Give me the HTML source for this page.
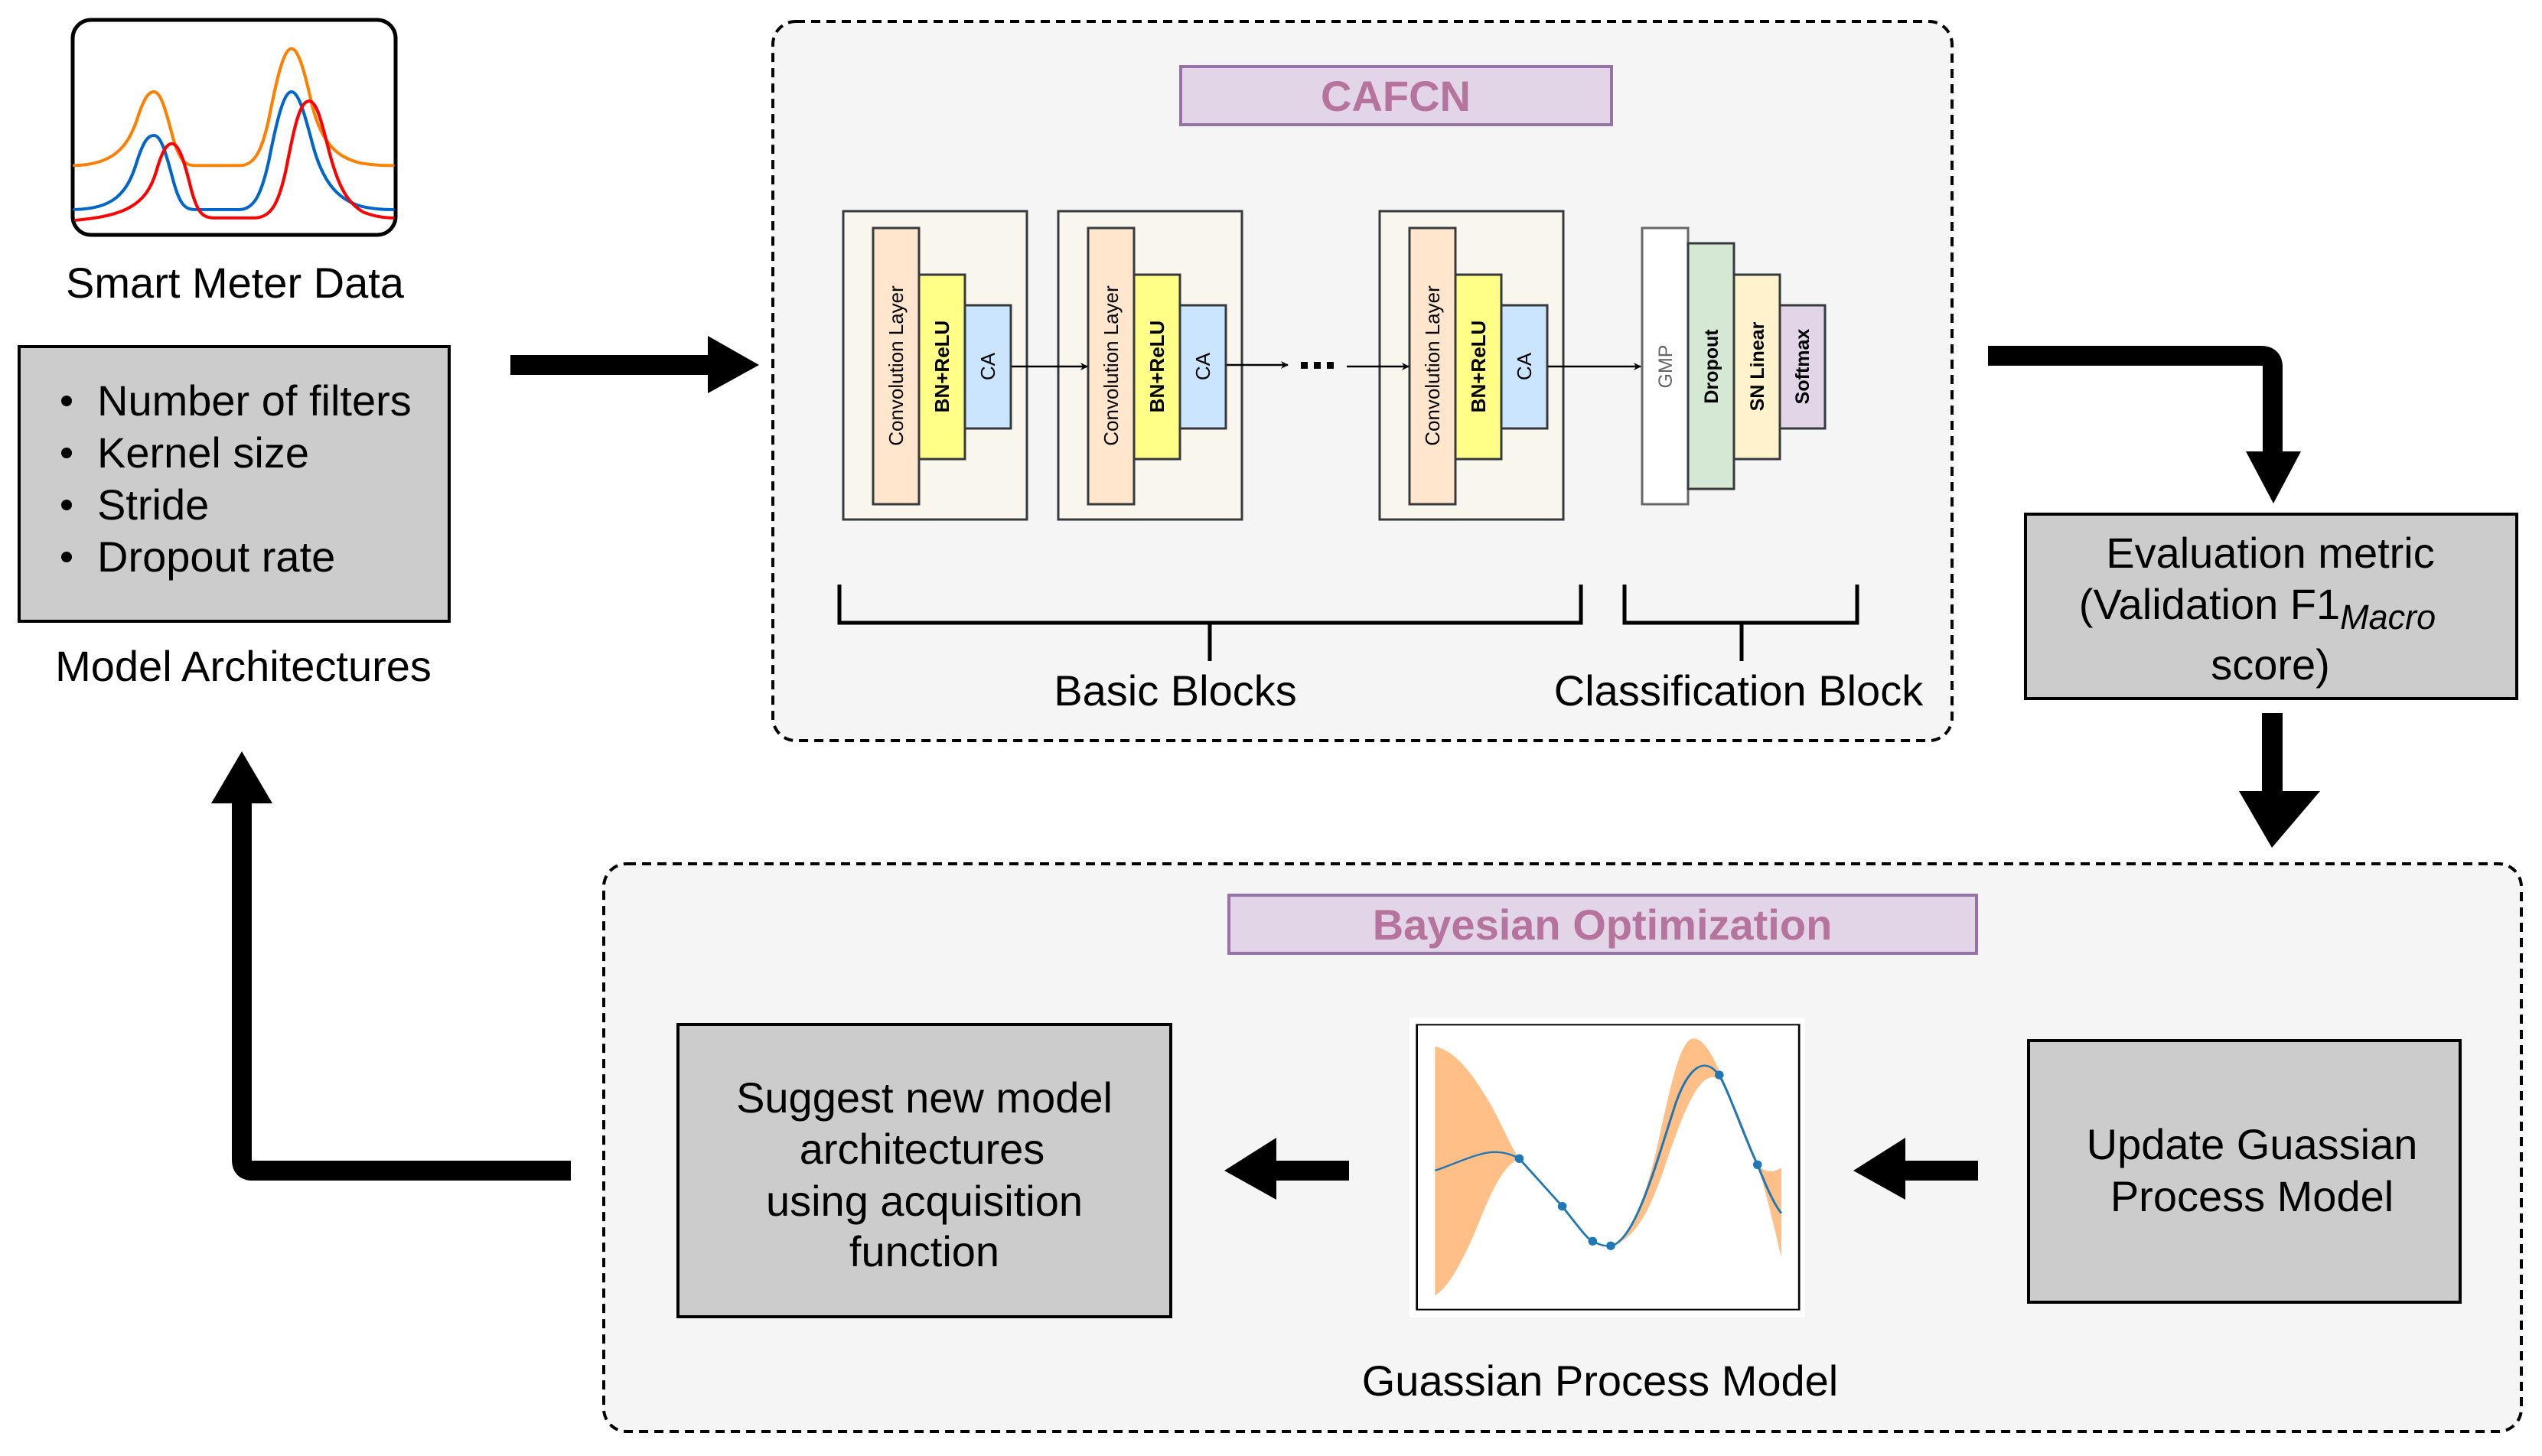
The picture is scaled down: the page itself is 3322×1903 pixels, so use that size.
<!DOCTYPE html>
<html><head><meta charset="utf-8"><style>
html,body{margin:0;padding:0;background:#fff;}
svg{display:block;font-family:"Liberation Sans",Arial,sans-serif;}
</style></head><body>
<svg width="3322" height="1903" viewBox="0 0 3322 1903" xmlns="http://www.w3.org/2000/svg">
<defs>
<marker id="ah" markerWidth="10" markerHeight="10" refX="9" refY="5" orient="auto" markerUnits="userSpaceOnUse"><path d="M0,0 L10,5 L0,10 L3,5 Z" fill="#000"/></marker>
</defs>

<!-- Smart meter chart -->
<rect x="95" y="26" width="422" height="281" rx="24" fill="#fff" stroke="#000" stroke-width="5"/>
<g transform="scale(0.638,0.606)" fill="none" stroke-width="6.5" stroke-linejoin="round" stroke-linecap="round">
<path stroke="#ff8000" d="M152,357 C230,355 260,320 280,260 C295,210 305,198 315,198 C330,198 340,240 355,300 C368,345 378,357 400,357 L490,357 C520,357 535,330 550,260 C565,180 580,105 597,105 C612,105 625,160 640,230 C660,310 690,340 740,352 C770,357 790,357 805,357"/>
<path stroke="#0066cc" d="M152,452 C230,450 260,420 280,350 C295,300 305,292 315,292 C330,292 340,330 355,390 C368,440 378,452 400,452 L490,452 C520,452 535,420 550,350 C565,270 580,198 597,198 C612,198 625,250 640,310 C660,390 690,430 740,445 C770,452 790,452 805,452"/>
<path stroke="#ff0000" d="M155,475 C260,465 300,440 320,370 C332,325 342,310 352,310 C367,310 378,350 392,410 C405,460 415,470 440,470 L520,470 C555,470 570,440 585,370 C600,290 612,218 633,218 C650,218 660,270 675,330 C695,410 715,440 745,458 C770,468 790,470 805,470"/>
</g>
<text x="307" y="389" font-size="56" text-anchor="middle">Smart Meter Data</text>

<!-- Model architectures box -->
<rect x="25" y="453" width="562" height="359" fill="#cccccc" stroke="#000" stroke-width="4"/>
<g font-size="56">
<circle cx="87" cy="524" r="7"/><text x="127" y="543">Number of filters</text>
<circle cx="87" cy="592" r="7"/><text x="127" y="611">Kernel size</text>
<circle cx="87" cy="660" r="7"/><text x="127" y="679">Stride</text>
<circle cx="87" cy="728" r="7"/><text x="127" y="747">Dropout rate</text>
</g>
<text x="318" y="890" font-size="56" text-anchor="middle">Model Architectures</text>

<!-- big right arrow -->
<polygon points="667,464 925,464 925,439 992,477 925,514 925,490 667,490" fill="#000"/>

<!-- CAFCN container -->
<rect x="1010" y="28" width="1541" height="940" rx="30" fill="#f5f5f5" stroke="#000" stroke-width="4" stroke-dasharray="12,8"/>
<rect x="1543" y="87" width="563" height="76" fill="#e1d5e7" stroke="#9673a6" stroke-width="4"/>
<text x="1824" y="145" font-size="56" font-weight="bold" fill="#b5739d" text-anchor="middle">CAFCN</text>

<!-- basic blocks -->
<g stroke="#36393d" stroke-width="3">
<rect x="1102" y="276" width="240" height="403" fill="#f9f7ed"/>
<rect x="1383" y="276" width="240" height="403" fill="#f9f7ed"/>
<rect x="1803" y="276" width="240" height="403" fill="#f9f7ed"/>
</g>
<g stroke="#36393d" stroke-width="3">
<rect x="1141" y="298" width="60" height="361" fill="#ffe6cc"/>
<rect x="1201" y="359" width="60" height="241" fill="#ffff88"/>
<rect x="1261" y="399" width="60" height="161" fill="#cce5ff"/>
<rect x="1422" y="298" width="60" height="361" fill="#ffe6cc"/>
<rect x="1482" y="359" width="60" height="241" fill="#ffff88"/>
<rect x="1542" y="399" width="60" height="161" fill="#cce5ff"/>
<rect x="1842" y="298" width="60" height="361" fill="#ffe6cc"/>
<rect x="1902" y="359" width="60" height="241" fill="#ffff88"/>
<rect x="1962" y="399" width="60" height="161" fill="#cce5ff"/>
</g>
<g font-size="26" text-anchor="middle">
<text transform="translate(1180,478) rotate(-90)">Convolution Layer</text>
<text transform="translate(1240,479) rotate(-90)" font-weight="bold">BN+ReLU</text>
<text transform="translate(1300,479) rotate(-90)">CA</text>
<text transform="translate(1461,478) rotate(-90)">Convolution Layer</text>
<text transform="translate(1521,479) rotate(-90)" font-weight="bold">BN+ReLU</text>
<text transform="translate(1581,479) rotate(-90)">CA</text>
<text transform="translate(1881,478) rotate(-90)">Convolution Layer</text>
<text transform="translate(1941,479) rotate(-90)" font-weight="bold">BN+ReLU</text>
<text transform="translate(2001,479) rotate(-90)">CA</text>
</g>
<!-- small arrows -->
<g stroke="#000" stroke-width="2.5" fill="none">
<line x1="1322" y1="479" x2="1421" y2="479" marker-end="url(#ah)"/>
<line x1="1603" y1="477" x2="1683" y2="477" marker-end="url(#ah)"/>
<line x1="1760" y1="479" x2="1841" y2="479" marker-end="url(#ah)"/>
<line x1="2023" y1="479" x2="2144" y2="479" marker-end="url(#ah)"/>
</g>
<g fill="#000"><rect x="1700" y="473" width="9" height="9"/><rect x="1717" y="473" width="9" height="9"/><rect x="1734" y="473" width="9" height="9"/></g>

<!-- classification block -->
<rect x="2146" y="298" width="60" height="361" fill="#fff" stroke="#666" stroke-width="3"/>
<rect x="2206" y="318" width="60" height="321" fill="#d5e8d4" stroke="#36393d" stroke-width="3"/>
<rect x="2266" y="359" width="60" height="241" fill="#fff2cc" stroke="#36393d" stroke-width="3"/>
<rect x="2326" y="399" width="59" height="161" fill="#e1d5e7" stroke="#36393d" stroke-width="3"/>
<g font-size="25" text-anchor="middle" font-weight="bold">
<text transform="translate(2185,479) rotate(-90)" fill="#666" font-weight="normal">GMP</text>
<text transform="translate(2245,479) rotate(-90)">Dropout</text>
<text transform="translate(2305,479) rotate(-90)">SN Linear</text>
<text transform="translate(2364,479) rotate(-90)">Softmax</text>
</g>

<!-- brackets -->
<g stroke="#000" stroke-width="5" fill="none">
<polyline points="1097,764 1097,814 2066,814 2066,764"/>
<line x1="1581" y1="814" x2="1581" y2="864"/>
<polyline points="2123,764 2123,814 2427,814 2427,764"/>
<line x1="2276" y1="814" x2="2276" y2="864"/>
</g>
<text x="1536" y="922" font-size="56" text-anchor="middle">Basic Blocks</text>
<text x="2272" y="922" font-size="56" text-anchor="middle">Classification Block</text>

<!-- arrow to evaluation -->
<path d="M2598,465 L2955,465 Q2970,465 2970,480 L2970,600" stroke="#000" stroke-width="26" fill="none"/>
<polygon points="2935,590 3007,590 2971,658" fill="#000"/>

<!-- evaluation box -->
<rect x="2647" y="672" width="642" height="241" fill="#cccccc" stroke="#000" stroke-width="4"/>
<g font-size="56" text-anchor="middle">
<text x="2967" y="742">Evaluation metric</text>
<text x="2950" y="809">(Validation F1<tspan font-style="italic" font-size="45" dy="13">Macro</tspan></text>
<text x="2967" y="888">score)</text>
</g>

<!-- down arrow -->
<rect x="2956" y="932" width="27" height="104" fill="#000"/>
<polygon points="2926,1034 3032,1034 2969,1108" fill="#000"/>

<!-- Bayesian container -->
<rect x="789" y="1129" width="2506" height="742" rx="30" fill="#f5f5f5" stroke="#000" stroke-width="4" stroke-dasharray="12,8"/>
<rect x="1606" y="1170" width="977" height="76" fill="#e1d5e7" stroke="#9673a6" stroke-width="4"/>
<text x="2094" y="1228" font-size="56" font-weight="bold" fill="#b5739d" text-anchor="middle">Bayesian Optimization</text>

<!-- update box -->
<rect x="2651" y="1360" width="564" height="342" fill="#cccccc" stroke="#000" stroke-width="4"/>
<g font-size="56" text-anchor="middle">
<text x="2943" y="1515">Update Guassian</text>
<text x="2943" y="1583">Process Model</text>
</g>

<!-- left arrow from update -->
<polygon points="2585,1517 2490,1517 2490,1487 2422,1530 2490,1568 2490,1543 2585,1543" fill="#000"/>

<!-- GP chart -->
<rect x="1842" y="1330" width="517" height="392" fill="#fff"/>
<g transform="translate(1700,1300) scale(0.446,0.3333)">
<rect x="340" y="118" width="1120" height="1117" fill="none" stroke="#000" stroke-width="6"/>
<path fill="#ffbf86" d="M393,203 C450,220 500,300 560,440 C600,540 620,610 640,640 C680,690 720,760 766,830 L855,965 L908,985 C960,950 1000,840 1040,620 C1080,380 1110,172 1150,172 C1190,172 1220,280 1260,400 C1300,530 1320,640 1338,665 C1360,700 1385,700 1408,678 L1408,1030 C1385,900 1360,760 1338,668 C1310,560 1270,420 1240,350 C1220,320 1205,320 1190,330 C1150,360 1110,500 1060,700 C1020,850 980,960 908,985 L855,967 L766,830 C720,760 680,710 640,645 C600,660 560,760 520,900 C470,1060 430,1150 393,1180 Z"/>
<path fill="none" stroke="#1f77b4" stroke-width="7" d="M393,690 C460,660 530,610 580,618 C610,622 625,632 640,643 L766,830 C810,905 840,960 855,967 C880,985 900,990 920,980 C990,930 1050,620 1100,420 C1130,310 1160,278 1183,278 C1205,280 1215,300 1226,315 C1260,400 1300,560 1338,667 C1360,740 1385,820 1408,857"/>
<g fill="#1f77b4">
<ellipse cx="640" cy="643" rx="13" ry="17"/><ellipse cx="766" cy="830" rx="13" ry="17"/>
<ellipse cx="855" cy="967" rx="13" ry="17"/><ellipse cx="908" cy="985" rx="13" ry="17"/>
<ellipse cx="1226" cy="315" rx="13" ry="17"/><ellipse cx="1338" cy="667" rx="13" ry="17"/>
</g>
</g>
<text x="2091" y="1824" font-size="56" text-anchor="middle">Guassian Process Model</text>

<!-- left arrow to suggest -->
<polygon points="1763,1517 1668,1517 1668,1487 1600,1530 1668,1568 1668,1543 1763,1543" fill="#000"/>

<!-- suggest box -->
<rect x="886" y="1339" width="644" height="382" fill="#cccccc" stroke="#000" stroke-width="4"/>
<g font-size="56" text-anchor="middle">
<text x="1208" y="1454">Suggest new model</text>
<text x="1205" y="1521">architectures</text>
<text x="1208" y="1589">using acquisition</text>
<text x="1208" y="1655">function</text>
</g>

<!-- loop arrow -->
<path d="M746,1530 L330,1530 Q316,1530 316,1516 L316,1045" stroke="#000" stroke-width="26" fill="none"/>
<polygon points="276,1050 356,1050 316,982" fill="#000"/>
</svg>
</body></html>
